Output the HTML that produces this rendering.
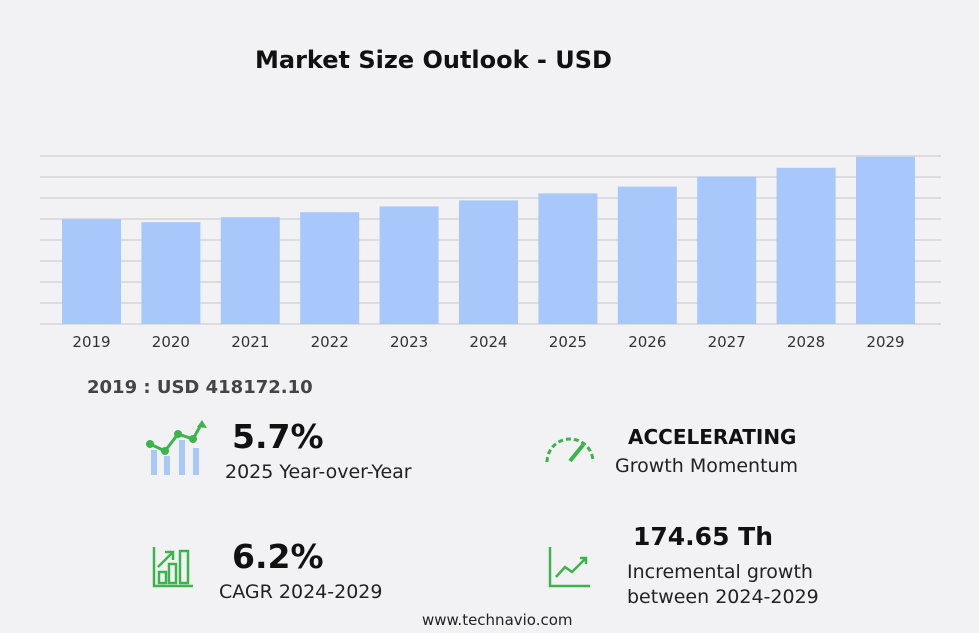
<!DOCTYPE html>
<html><head><meta charset="utf-8"><style>
body{margin:0;width:979px;height:633px;background:#f2f2f4;font-family:"DejaVu Sans","Liberation Sans",sans-serif;position:relative;overflow:hidden}
.a{position:absolute;white-space:nowrap;color:#111}
</style></head><body>
<div class="a" style="left:255px;top:46px;font-size:24px;font-weight:bold;">Market Size Outlook  - USD</div>
<svg id="chart" width="979" height="360" style="position:absolute;left:0;top:0"></svg>
<div class="a" style="left:87px;top:377px;font-size:18px;font-weight:bold;color:#444">2019 : USD  418172.10</div>

<svg style="position:absolute;left:145px;top:418px" width="62" height="60">
<rect x="6" y="32" width="6" height="25" fill="#a8c8f8"/><rect x="19" y="38" width="6" height="19" fill="#a8c8f8"/><rect x="34" y="22" width="6" height="35" fill="#a8c8f8"/><rect x="48" y="30" width="6" height="27" fill="#a8c8f8"/>
<polyline points="5,26 20,33 33,16 48,21 57,5" fill="none" stroke="#3bb54a" stroke-width="3"/>
<circle cx="5" cy="26" r="4" fill="#3bb54a"/><circle cx="20" cy="33" r="4" fill="#3bb54a"/><circle cx="33" cy="16" r="4" fill="#3bb54a"/><circle cx="48" cy="21" r="4" fill="#3bb54a"/>
<polygon points="57,2 62,10 52,9" fill="#3bb54a"/></svg>
<div class="a" style="left:232px;top:417px;font-size:33px;font-weight:bold">5.7%</div>
<div class="a" style="left:225px;top:461px;font-size:19px;color:#222">2025 Year-over-Year</div>

<svg style="position:absolute;left:543px;top:430px" width="55" height="35">
<path d="M4,32 A23,23 0 0 1 50,32" fill="none" stroke="#3bb54a" stroke-width="3" stroke-dasharray="5 3"/>
<line x1="27" y1="31" x2="40" y2="15" stroke="#3bb54a" stroke-width="4"/></svg>
<div class="a" style="left:628px;top:425px;font-size:20px;font-weight:bold">ACCELERATING</div>
<div class="a" style="left:615px;top:455px;font-size:19px;color:#222">Growth Momentum</div>

<svg style="position:absolute;left:152px;top:545px" width="42" height="44">
<g fill="none" stroke="#3bb54a" stroke-width="2.5"><polyline points="2,2 2,41 41,41"/><rect x="7" y="27" width="7" height="11"/><rect x="17" y="19" width="7" height="19"/><rect x="28" y="6" width="8" height="32"/><polyline points="6,22 20,8"/><polyline points="13,7 21,7 21,15"/></g></svg>
<div class="a" style="left:232px;top:537px;font-size:33px;font-weight:bold">6.2%</div>
<div class="a" style="left:219px;top:581px;font-size:19px;color:#222">CAGR 2024-2029</div>

<svg style="position:absolute;left:548px;top:545px" width="44" height="44">
<g fill="none" stroke="#3bb54a" stroke-width="2.5"><polyline points="2,2 2,41 42,41"/><polyline points="8,32 17,22 24,27 38,13"/><polyline points="32,13 38,13 38,19"/></g></svg>
<div class="a" style="left:633px;top:522px;font-size:25px;font-weight:bold">174.65 Th</div>
<div class="a" style="left:627px;top:560px;font-size:19px;color:#222;line-height:25px">Incremental growth<br>between 2024-2029</div>
<div class="a" style="left:422px;top:611px;font-size:15px;color:#222">www.technavio.com</div>
<script>
const categories=["2019","2020","2021","2022","2023","2024","2025","2026","2027","2028","2029"];
const values=[418,406,426,446,469,493,521,548,588,623,667];
const gridCount=8, yMax=670;
const svg=document.getElementById('chart');
const NS='http://www.w3.org/2000/svg';
const x0=40,x1=941,baseY=324,topY=156,step=79.4,firstC=91.5,bw=59;
const y=v=>baseY-(v/yMax)*(baseY-topY);
const xc=i=>firstC+i*step;
for(let g=0;g<=gridCount;g++){
 const l=document.createElementNS(NS,'line');
 
 
 const yy=y(yMax*g/gridCount);
 l.setAttribute('x1',x0);l.setAttribute('x2',x1);l.setAttribute('y1',yy);l.setAttribute('y2',yy);
 l.setAttribute('stroke','#d4d4d6');l.setAttribute('stroke-width','1.5');svg.appendChild(l);
}
categories.forEach((c,i)=>{
 const r=document.createElementNS(NS,'rect');
 
 
 r.setAttribute('x',xc(i)-bw/2);r.setAttribute('y',y(values[i]));r.setAttribute('width',bw);r.setAttribute('height',baseY-y(values[i]));
 r.setAttribute('fill','#a8c8fb');svg.appendChild(r);
 const t=document.createElementNS(NS,'text');
 
 
 t.setAttribute('x',xc(i));t.setAttribute('y',347);t.setAttribute('text-anchor','middle');
 t.setAttribute('font-size','15');t.setAttribute('fill','#333');t.setAttribute('font-family','DejaVu Sans, sans-serif');
 t.textContent=c;svg.appendChild(t);
});
</script>
</body></html>
